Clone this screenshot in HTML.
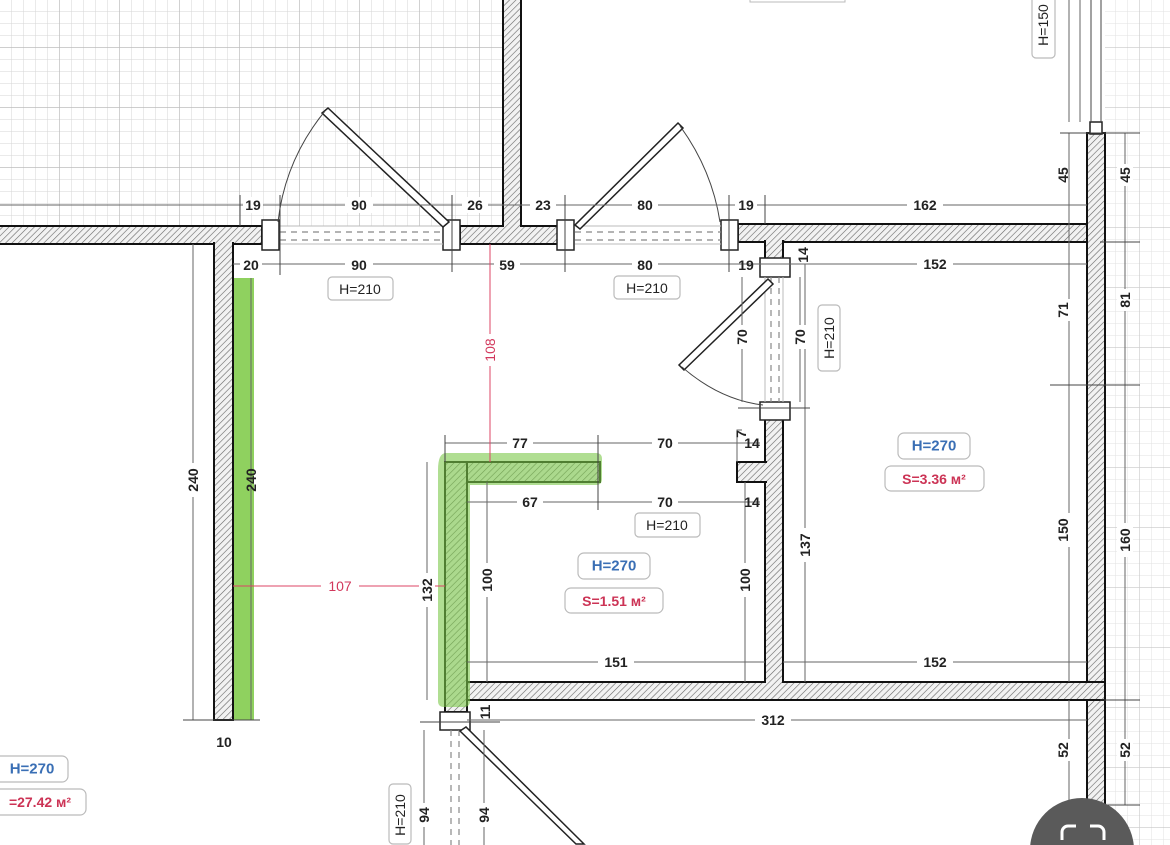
<!DOCTYPE html>
<html><head><meta charset="utf-8"><style>
html,body{margin:0;padding:0;background:#fff;width:1170px;height:845px;overflow:hidden;}
svg{display:block;font-family:"Liberation Sans",sans-serif;overflow:hidden;}
.t{font-size:14px;font-weight:bold;fill:#222;text-anchor:middle;dominant-baseline:central;}
.d{stroke:#666;stroke-width:1;fill:none;}
.w{fill:url(#h);stroke:#111;stroke-width:2;}
.box{fill:#fff;stroke:#bbb;stroke-width:1.2;}
</style></head><body>
<svg width="1170" height="845" viewBox="0 0 1170 845" xmlns="http://www.w3.org/2000/svg">
<defs>
<pattern id="h" width="4.5" height="4.5" patternUnits="userSpaceOnUse" patternTransform="rotate(45)">
<rect width="4.5" height="4.5" fill="#f2f2f2"/><line x1="0" y1="0" x2="0" y2="4.5" stroke="#666" stroke-width="1.2"/></pattern>
<pattern id="grid" width="12" height="12" patternUnits="userSpaceOnUse"><path d="M12 0V12H0" fill="none" stroke="#d6d6d6" stroke-width="1"/></pattern>
<pattern id="grid2" width="60" height="60" patternUnits="userSpaceOnUse" x="0" y="-12"><path d="M60 0V60H0" fill="none" stroke="#bdbdbd" stroke-width="1.4"/></pattern>
</defs>
<rect x="0" y="0" width="503" height="226" fill="url(#grid)"/>
<rect x="0" y="0" width="503" height="226" fill="url(#grid2)"/>
<rect x="1105" y="0" width="65" height="845" fill="url(#grid)" opacity="0.7"/>
<rect x="1105" y="0" width="65" height="845" fill="url(#grid2)" opacity="0.6"/>

<rect x="232" y="278" width="22" height="442" fill="#8fd15f"/>

<rect class="w" x="-5" y="226" width="267" height="18"/>
<rect class="w" x="214" y="243" width="19" height="477"/>
<rect x="215" y="227" width="17" height="17" fill="url(#h)"/>
<rect class="w" x="460" y="226" width="105" height="18"/>
<rect class="w" x="503" y="-5" width="18" height="231"/>
<rect x="504" y="224" width="16" height="4" fill="url(#h)"/>
<rect class="w" x="738" y="224" width="367" height="18"/>
<rect class="w" x="1087" y="133" width="18" height="690"/>
<rect x="1088" y="223" width="4" height="18" fill="url(#h)"/>
<rect class="w" x="765" y="241" width="18" height="20"/>
<rect x="766" y="238" width="16" height="5" fill="url(#h)"/>
<rect class="w" x="765" y="418" width="18" height="264"/>
<rect class="w" x="737" y="462" width="29" height="20"/>
<rect x="763" y="463" width="4" height="18" fill="url(#h)"/>
<path d="M742 430 L737 430 L737 462" class="d" stroke="#222"/>
<rect class="w" x="445" y="682" width="660" height="18"/>
<rect x="1086" y="683" width="6" height="16" fill="url(#h)"/>
<rect x="766" y="680" width="16" height="4" fill="url(#h)"/>
<rect class="w" x="445" y="462" width="155" height="20"/>
<rect class="w" x="445" y="462" width="22" height="250"/>
<rect x="446" y="463" width="20" height="19" fill="url(#h)"/>
<rect x="446" y="681" width="20" height="18" fill="url(#h)"/>
<path d="M446 453 H596 Q602 453 602 459 V479 Q602 485 596 485 H470 V701 Q470 707 464 707 H444 Q438 707 438 701 V470 Q438 453 446 453 Z" fill="#7cc84a" opacity="0.6"/>

<rect x="1090" y="122" width="12" height="12" fill="#fff" stroke="#222" stroke-width="1.5"/>
<line x1="1091" y1="0" x2="1091" y2="122" stroke="#444"/><line x1="1101" y1="0" x2="1101" y2="122" stroke="#444"/>

<g fill="#fff" stroke="#222" stroke-width="1.5">
<rect x="262" y="220" width="17" height="30"/>
<rect x="443" y="220" width="17" height="30"/>
<rect x="557" y="220" width="17" height="30"/>
<rect x="721" y="220" width="17" height="30"/>
<rect x="760" y="258" width="30" height="19"/>
<rect x="760" y="402" width="30" height="18"/>
<rect x="440" y="712" width="30" height="18"/>
</g>
<g stroke="#888" stroke-width="1.2" stroke-dasharray="6,5" fill="none">
<line x1="280" y1="232" x2="443" y2="232"/><line x1="280" y1="240" x2="443" y2="240"/>
<line x1="575" y1="232" x2="721" y2="232"/><line x1="575" y1="240" x2="721" y2="240"/>
<line x1="771" y1="277" x2="771" y2="402"/><line x1="779" y1="277" x2="779" y2="402"/>
<line x1="451" y1="730" x2="451" y2="845"/><line x1="459" y1="730" x2="459" y2="845"/>
</g>
<g stroke="#bbb" stroke-width="1"><line x1="280" y1="226" x2="443" y2="226"/><line x1="280" y1="244" x2="443" y2="244"/><line x1="575" y1="226" x2="721" y2="226"/><line x1="575" y1="244" x2="721" y2="244"/><line x1="765" y1="277" x2="765" y2="402"/><line x1="783" y1="277" x2="783" y2="402"/></g>
<g fill="#fff" stroke="#222" stroke-width="1.5">
<polygon points="443,227 449,222 328,108 322,113"/>
<polygon points="575,225 580,229 683,128 678,123"/>
<polygon points="768,279 773,284 684,370 679,365"/>
<polygon points="460,731 466,727 584,844 576,844"/>
</g>
<g fill="none" stroke="#444" stroke-width="1">
<path d="M325 111 Q285 160 278 222"/>
<path d="M680 126 Q712 170 720 222"/>
<path d="M682 367 Q720 400 763 405"/>
</g>

<g class="d">
<line x1="0" y1="205" x2="1087" y2="205"/>
<line x1="233" y1="264" x2="1087" y2="264"/>
<line x1="445" y1="443" x2="760" y2="443"/>
<line x1="467" y1="502" x2="760" y2="502"/>
<line x1="467" y1="662" x2="765" y2="662"/>
<line x1="783" y1="662" x2="1087" y2="662"/>
<line x1="467" y1="720" x2="1087" y2="720"/>
<line x1="1069" y1="133" x2="1069" y2="682"/>
<line x1="1069" y1="700" x2="1069" y2="805"/>
<line x1="1125" y1="133" x2="1125" y2="805"/>
<line x1="193" y1="244" x2="193" y2="720"/>
<line x1="251" y1="278" x2="251" y2="720"/>
<line x1="427" y1="462" x2="427" y2="700"/>
<line x1="487" y1="482" x2="487" y2="682"/>
<line x1="745" y1="482" x2="745" y2="682"/>
<line x1="805" y1="264" x2="805" y2="682"/>
<line x1="742" y1="277" x2="742" y2="402"/>
<line x1="800" y1="277" x2="800" y2="402"/>
<line x1="424" y1="730" x2="424" y2="845"/>
<line x1="484" y1="730" x2="484" y2="845"/>
<line x1="1069" y1="0" x2="1069" y2="122"/>
<line x1="1080" y1="0" x2="1080" y2="122"/>
</g>
<g stroke="#444" stroke-width="1">
<line x1="240" y1="195" x2="240" y2="226"/><line x1="280" y1="195" x2="280" y2="275"/><line x1="452" y1="195" x2="452" y2="272"/><line x1="565" y1="195" x2="565" y2="272"/><line x1="729" y1="195" x2="729" y2="272"/><line x1="765" y1="195" x2="765" y2="224"/>
<line x1="598" y1="435" x2="598" y2="510"/><line x1="445" y1="435" x2="445" y2="462"/>
<line x1="183" y1="720" x2="260" y2="720"/><line x1="420" y1="722" x2="500" y2="722"/>
<line x1="738" y1="408" x2="810" y2="408"/><line x1="1050" y1="385" x2="1140" y2="385"/><line x1="1060" y1="133" x2="1140" y2="133"/><line x1="1100" y1="242" x2="1140" y2="242"/><line x1="1060" y1="805" x2="1140" y2="805"/><line x1="1100" y1="700" x2="1140" y2="700"/>
</g>
<g stroke="#d46" stroke-width="1"><line x1="490" y1="244" x2="490" y2="462"/><line x1="233" y1="586" x2="445" y2="586"/></g>

<g class="t">
<rect x="243" y="197" width="20" height="16" fill="#fff"/><text x="253" y="205">19</text>
<rect x="345" y="197" width="28" height="16" fill="#fff"/><text x="359" y="205">90</text>
<rect x="462" y="197" width="26" height="16" fill="#fff"/><text x="475" y="205">26</text>
<rect x="530" y="197" width="26" height="16" fill="#fff"/><text x="543" y="205">23</text>
<rect x="632" y="197" width="26" height="16" fill="#fff"/><text x="645" y="205">80</text>
<rect x="735" y="197" width="22" height="16" fill="#fff"/><text x="746" y="205">19</text>
<rect x="907" y="197" width="36" height="16" fill="#fff"/><text x="925" y="205">162</text>
<rect x="240" y="256" width="22" height="16" fill="#fff"/><text x="251" y="265">20</text>
<rect x="345" y="256" width="28" height="16" fill="#fff"/><text x="359" y="265">90</text>
<rect x="494" y="256" width="26" height="16" fill="#fff"/><text x="507" y="265">59</text>
<rect x="632" y="256" width="26" height="16" fill="#fff"/><text x="645" y="265">80</text>
<text x="746" y="265">19</text>
<rect x="917" y="256" width="36" height="16" fill="#fff"/><text x="935" y="264">152</text>
<text x="803" y="255" transform="rotate(-90 803 255)">14</text>
<rect x="507" y="435" width="26" height="16" fill="#fff"/><text x="520" y="443">77</text>
<rect x="652" y="435" width="26" height="16" fill="#fff"/><text x="665" y="443">70</text>
<text x="752" y="443">14</text>
<text x="741" y="434" transform="rotate(-90 741 434)">7</text>
<rect x="517" y="494" width="26" height="16" fill="#fff"/><text x="530" y="502">67</text>
<rect x="652" y="494" width="26" height="16" fill="#fff"/><text x="665" y="502">70</text>
<text x="752" y="502">14</text>
<rect x="598" y="654" width="36" height="16" fill="#fff"/><text x="616" y="662">151</text>
<rect x="917" y="654" width="36" height="16" fill="#fff"/><text x="935" y="662">152</text>
<rect x="755" y="712" width="36" height="16" fill="#fff"/><text x="773" y="720">312</text>
<text x="224" y="742">10</text>
<g transform="rotate(-90 742 337)"><rect x="730" y="329" width="24" height="16" fill="#fff"/><text x="742" y="337">70</text></g>
<g transform="rotate(-90 800 337)"><rect x="788" y="329" width="24" height="16" fill="#fff"/><text x="800" y="337">70</text></g>
<g transform="rotate(-90 1063 175)"><text x="1063" y="175">45</text></g>
<g transform="rotate(-90 1125 175)"><rect x="1114" y="167" width="22" height="16" fill="#fff"/><text x="1125" y="175">45</text></g>
<g transform="rotate(-90 1125 300)"><rect x="1114" y="292" width="22" height="16" fill="#fff"/><text x="1125" y="300">81</text></g>
<g transform="rotate(-90 1063 310)"><rect x="1052" y="302" width="22" height="16" fill="#fff"/><text x="1063" y="310">71</text></g>
<g transform="rotate(-90 1063 530)"><rect x="1046" y="522" width="34" height="16" fill="#fff"/><text x="1063" y="530">150</text></g>
<g transform="rotate(-90 1125 540)"><rect x="1108" y="532" width="34" height="16" fill="#fff"/><text x="1125" y="540">160</text></g>
<g transform="rotate(-90 1063 750)"><rect x="1052" y="742" width="22" height="16" fill="#fff"/><text x="1063" y="750">52</text></g>
<g transform="rotate(-90 1125 750)"><rect x="1114" y="742" width="22" height="16" fill="#fff"/><text x="1125" y="750">52</text></g>
<g transform="rotate(-90 805 545)"><rect x="788" y="537" width="34" height="16" fill="#fff"/><text x="805" y="545">137</text></g>
<g transform="rotate(-90 487 580)"><rect x="470" y="572" width="34" height="16" fill="#fff"/><text x="487" y="580">100</text></g>
<g transform="rotate(-90 745 580)"><rect x="728" y="572" width="34" height="16" fill="#fff"/><text x="745" y="580">100</text></g>
<g transform="rotate(-90 427 590)"><rect x="410" y="582" width="34" height="16" fill="#fff"/><text x="427" y="590">132</text></g>
<g transform="rotate(-90 193 480)"><rect x="176" y="472" width="34" height="16" fill="#fff"/><text x="193" y="480">240</text></g>
<g transform="rotate(-90 251 480)"><text x="251" y="480">240</text></g>
<g transform="rotate(-90 485 712)"><text x="485" y="712">11</text></g>
<g transform="rotate(-90 424 815)"><rect x="412" y="807" width="24" height="16" fill="#fff"/><text x="424" y="815">94</text></g>
<g transform="rotate(-90 484 815)"><rect x="472" y="807" width="24" height="16" fill="#fff"/><text x="484" y="815">94</text></g>
<g transform="rotate(-90 490 350)"><rect x="474" y="342" width="32" height="16" fill="#fff"/><text x="490" y="350" style="fill:#d2385c;font-weight:normal">108</text></g>
<rect x="321" y="578" width="38" height="16" fill="#fff"/><text x="340" y="586" style="fill:#d2385c;font-weight:normal">107</text>
</g>

<g font-size="14">
<rect class="box" x="328" y="277" width="65" height="23" rx="4"/><text class="t" x="360" y="289" style="font-weight:normal">H=210</text>
<rect class="box" x="614" y="276" width="66" height="23" rx="4"/><text class="t" x="647" y="288" style="font-weight:normal">H=210</text>
<rect class="box" x="635" y="513" width="65" height="24" rx="4"/><text class="t" x="667" y="525" style="font-weight:normal">H=210</text>
<rect class="box" x="818" y="305" width="22" height="66" rx="4"/><text class="t" x="829" y="338" transform="rotate(-90 829 338)" style="font-weight:normal">H=210</text>
<rect class="box" x="389" y="784" width="22" height="60" rx="4"/><text class="t" x="400" y="815" transform="rotate(-90 400 815)" style="font-weight:normal">H=210</text>
<rect class="box" x="1032" y="-6" width="23" height="64" rx="4"/><text class="t" x="1043" y="25" transform="rotate(-90 1043 25)" style="font-weight:normal">H=150</text>
<rect class="box" x="578" y="553" width="72" height="26" rx="6"/><text class="t" x="614" y="566" style="fill:#3a6fb5;font-size:15px">H=270</text>
<rect class="box" x="565" y="588" width="98" height="25" rx="6"/><text class="t" x="614" y="601" style="fill:#cc3355">S=1.51 м²</text>
<rect class="box" x="898" y="433" width="72" height="26" rx="6"/><text class="t" x="934" y="446" style="fill:#3a6fb5;font-size:15px">H=270</text>
<rect class="box" x="885" y="466" width="99" height="25" rx="6"/><text class="t" x="934" y="479" style="fill:#cc3355">S=3.36 м²</text>
<rect class="box" x="-8" y="756" width="76" height="26" rx="6"/><text class="t" x="32" y="769" style="fill:#3a6fb5;font-size:15px">H=270</text>
<rect class="box" x="-8" y="789" width="94" height="26" rx="6"/><text class="t" x="40" y="802" style="fill:#cc3355">=27.42 м²</text>
</g>
<rect x="750" y="-4" width="95" height="6" fill="#fff" stroke="#bbb"/>

<circle cx="1082" cy="850" r="52" fill="#5a5a5a"/>
<path d="M1062 840v-8a6 6 0 0 1 6-6h8M1090 826h8a6 6 0 0 1 6 6v8" stroke="#fff" stroke-width="3" fill="none"/>
</svg>
</body></html>
